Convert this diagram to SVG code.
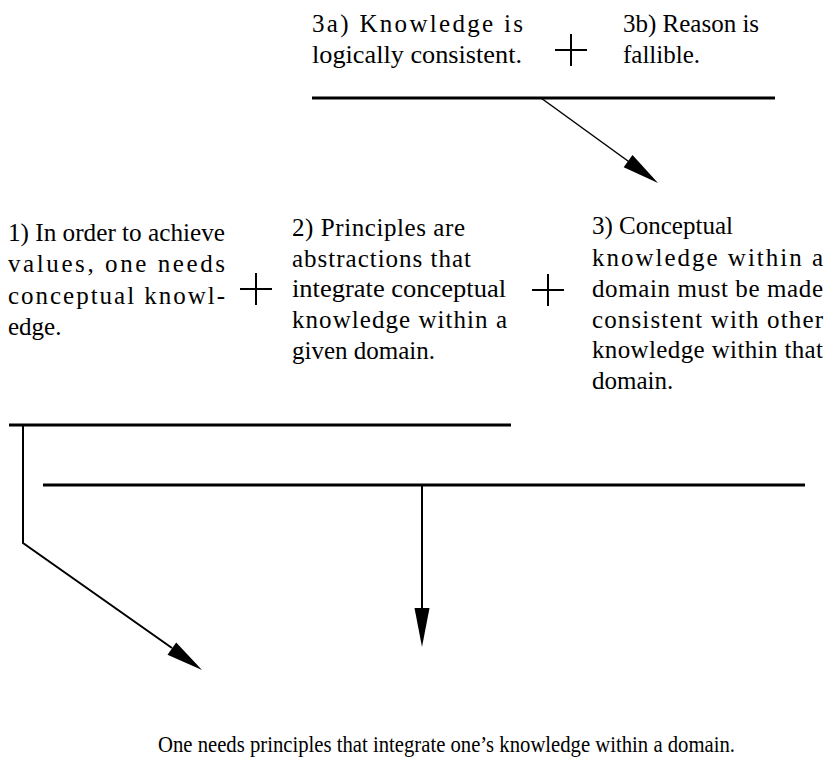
<svg xmlns="http://www.w3.org/2000/svg" width="833" height="764" viewBox="0 0 833 764">
<style>
  .t { font-family: 'Liberation Serif', 'Times New Roman', serif; font-size: 25px; fill: #000; }
  .c { font-size: 23px; }
  .bar { stroke: #000; stroke-width: 3; fill: none; }
  .plus { stroke: #000; stroke-width: 2; fill: none; }
  .wire { stroke: #000; stroke-width: 2; fill: none; }
  .thin { stroke: #000; stroke-width: 1.5; fill: none; }
  .head { fill: #000; stroke: none; }
</style>
<rect width="833" height="764" fill="#fff"/>

<g id="node-3a" class="t">
  <text x="312" y="32" textLength="211" lengthAdjust="spacing">3a) Knowledge is</text>
  <text x="312" y="63" textLength="210" lengthAdjust="spacingAndGlyphs">logically consistent.</text>
</g>
<g id="plus-top"><path class="plus" d="M555 50H587M571 34V66"/></g>
<g id="node-3b" class="t">
  <text x="623" y="32">3b) Reason is</text>
  <text x="623" y="63">fallible.</text>
</g>

<g id="node-1" class="t">
  <text x="8" y="241" textLength="217" lengthAdjust="spacingAndGlyphs">1) In order to achieve</text>
  <text x="8" y="272" textLength="217" lengthAdjust="spacing">values, one needs</text>
  <text x="8" y="304" textLength="217" lengthAdjust="spacing">conceptual knowl-</text>
  <text x="8" y="335">edge.</text>
</g>
<g id="plus-1"><path class="plus" d="M240 289H272M256 273V305"/></g>
<g id="node-2" class="t">
  <text x="292" y="236" textLength="173" lengthAdjust="spacing">2) Principles are</text>
  <text x="292" y="267" textLength="179" lengthAdjust="spacing">abstractions that</text>
  <text x="292" y="297" textLength="214" lengthAdjust="spacingAndGlyphs">integrate conceptual</text>
  <text x="292" y="328" textLength="215" lengthAdjust="spacing">knowledge within a</text>
  <text x="292" y="359">given domain.</text>
</g>
<g id="plus-2"><path class="plus" d="M532 290H564M548 274V306"/></g>
<g id="node-3" class="t">
  <text x="592" y="234">3) Conceptual</text>
  <text x="592" y="266" textLength="231" lengthAdjust="spacing">knowledge within a</text>
  <text x="592" y="297" textLength="231" lengthAdjust="spacing">domain must be made</text>
  <text x="592" y="328" textLength="231" lengthAdjust="spacing">consistent with other</text>
  <text x="592" y="358" textLength="231" lengthAdjust="spacing">knowledge within that</text>
  <text x="592" y="389">domain.</text>
</g>

<g id="node-conclusion" class="t c">
  <text x="158" y="752" textLength="577" lengthAdjust="spacingAndGlyphs">One needs principles that integrate one’s knowledge within a domain.</text>
</g>

<g id="connectors">
  <path class="bar" d="M312 98H775"/>
  <path class="thin" d="M541 98L630 162.5"/>
  <polygon class="head" points="658,183 623.7,167.3 632.5,155.1"/>

  <path class="bar" d="M9 425H511"/>
  <path class="bar" d="M43 485H805"/>

  <path class="wire" d="M23 426V543L172 648"/>
  <polygon class="head" points="202,670 167.5,654.7 176.2,642.5"/>

  <path class="wire" d="M422 486V609"/>
  <polygon class="head" points="414.5,608 429.5,608 422,647"/>
</g>
</svg>
